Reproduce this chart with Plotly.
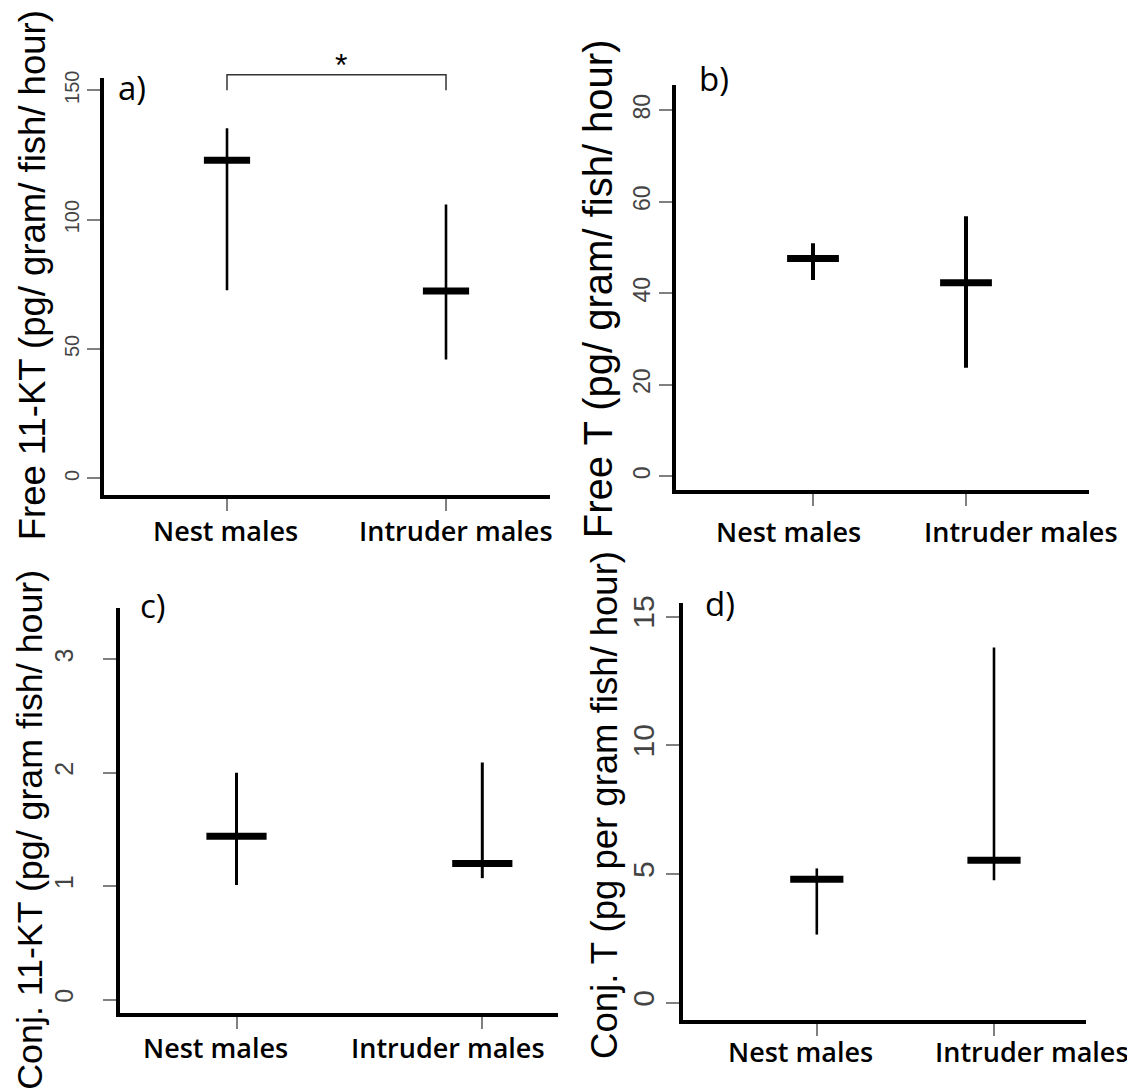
import plotly.graph_objects as go

W, H = 1135, 1090
# the page adds an offset around the figure; geometry below is measured on the page and shifted back
OFFX = 8
OFFY = 12

# ---------------- data ----------------
categories = ["Nest males", "Intruder males"]

a_median = [122.9, 72.4]
a_low = [72.7, 45.9]
a_high = [135.3, 105.8]

b_median = [47.6, 42.3]
b_low = [42.9, 23.7]
b_high = [50.9, 56.8]

c_median = [1.44, 1.20]
c_low = [1.01, 1.07]
c_high = [2.00, 2.09]

d_median = [4.80, 5.54]
d_low = [2.65, 4.76]
d_high = [5.22, 13.8]

a_ticks = [0, 50, 100, 150]
b_ticks = [0, 20, 40, 60, 80]
c_ticks = [0, 1, 2, 3]
d_ticks = [0, 5, 10, 15]

y_titles = [
    "Free 11-KT (pg/ gram/ fish/ hour)",
    "Free T (pg/ gram/ fish/ hour)",
    "Conj. 11-KT (pg/ gram fish/ hour)",
    "Conj. T (pg per gram fish/ hour)",
]
panel_letters = ["a)", "b)", "c)", "d)"]
sig_text = "*"
bracket_top = 156.0
bracket_foot = 150.0

# ---------------- layout geometry (page pixels) ----------------
LW = 4
panels = [
    dict(med=a_median, lo=a_low, hi=a_high, ticks=a_ticks,
         left=101.7, right=550, top=75, bottom=497.3, y0px=478.3, yrpx=87.7, yrval=150,
         c0=227, c1=446, tfs=20, vlw=2.6, mw=33, stand=0,
         title_x=32, title_y=274, title_fs=36.5,
         lab_shift=[-2, 10], lab_y=531, let_x=132, let_y=85),
    dict(med=b_median, lo=b_low, hi=b_high, ticks=b_ticks,
         left=673.7, right=1089, top=82.4, bottom=492.5, y0px=476.2, yrpx=107.8, yrval=80,
         c0=813, c1=966, tfs=23, vlw=4, mw=37, stand=0,
         title_x=598, title_y=288, title_fs=40,
         lab_shift=[-25, 55], lab_y=532, let_x=714, let_y=76),
    dict(med=c_median, lo=c_low, hi=c_high, ticks=c_ticks,
         left=117.5, right=557.7, top=609, bottom=1018.5, y0px=1002.9, yrpx=660.4, yrval=3,
         c0=236.5, c1=482.3, tfs=25, vlw=3, mw=43, stand=20,
         title_x=30, title_y=832, title_fs=35.8,
         lab_shift=[-21, -34], lab_y=1051, let_x=153, let_y=606),
    dict(med=d_median, lo=d_low, hi=d_high, ticks=d_ticks,
         left=680.6, right=1086, top=603.3, bottom=1025.9, y0px=1006.2, yrpx=617.5, yrval=15,
         c0=816.8, c1=994, tfs=30, vlw=2.6, mw=38, stand=0,
         title_x=605, title_y=807, title_fs=36.5,
         lab_shift=[-16, 38], lab_y=1055, let_x=720, let_y=604),
]

fig = go.Figure()
annotations = []
shapes = []

for i, p in enumerate(panels):
    n = "" if i == 0 else str(i + 1)
    xa, ya = "x" + n, "y" + n
    pl = p["left"] - OFFX + LW / 2
    pb = p["bottom"] - OFFY - LW / 2
    pt = p["top"] - OFFY
    pr = p["right"] - OFFX
    y0 = p["y0px"] - OFFY
    ppu = (p["y0px"] - p["yrpx"]) / p["yrval"]
    ymin = -(pb - y0) / ppu
    ymax = (y0 - pt) / ppu
    c0 = p["c0"] - OFFX
    c1 = p["c1"] - OFFX
    xppu = c1 - c0
    xmin = -(c0 - pl) / xppu
    xmax = 1 + (pr - c1) / xppu
    p["ymin"], p["ymax"] = ymin, ymax

    # range lines
    xs, ys = [], []
    for c, lo, hi in zip(categories, p["lo"], p["hi"]):
        xs += [c, c, None]
        ys += [lo, hi, None]
    fig.add_trace(go.Scatter(x=xs, y=ys, mode="lines",
                             line=dict(color="black", width=p["vlw"]),
                             xaxis=xa, yaxis=ya, showlegend=False, hoverinfo="skip"))
    # medians
    fig.add_trace(go.Scatter(x=categories, y=p["med"], mode="markers",
                             marker=dict(symbol="line-ew", size=p["mw"],
                                         line=dict(color="black", width=7)),
                             xaxis=xa, yaxis=ya, showlegend=False, cliponaxis=False))

    axis_common = dict(showline=True, linewidth=LW, linecolor="black", showgrid=False,
                       zeroline=False, ticks="outside", tickcolor="#808080", tickwidth=1.5)
    fig.layout["xaxis" + n] = dict(axis_common, domain=[pl / W, pr / W], range=[xmin, xmax],
                                   type="category", categoryorder="array", categoryarray=categories,
                                   ticklen=12, showticklabels=False, anchor=ya)
    fig.layout["yaxis" + n] = dict(axis_common, domain=[1 - pb / H, 1 - pt / H], range=[ymin, ymax],
                                   tickvals=p["ticks"], ticklen=13, tickangle=-90,
                                   ticklabelstandoff=p["stand"],
                                   tickfont=dict(family="Liberation Sans, Arial", size=p["tfs"], color="#444"),
                                   anchor=xa)

    # y title
    annotations.append(dict(text=y_titles[i], xref="paper", yref="paper",
                            x=(p["title_x"] - OFFX) / W, y=1 - (p["title_y"] - OFFY) / H, textangle=-90,
                            xanchor="center", yanchor="middle", showarrow=False,
                            font=dict(family="Liberation Sans, Arial", size=p["title_fs"], color="black")))
    # category labels
    for c, sh in zip(categories, p["lab_shift"]):
        annotations.append(dict(text=c, xref=xa, yref="paper", x=c, xshift=sh,
                                y=1 - (p["lab_y"] - OFFY) / H, xanchor="center", yanchor="middle",
                                showarrow=False,
                                font=dict(family="Open Sans", size=27, color="black", weight=600)))
    # panel letter
    annotations.append(dict(text=panel_letters[i], xref="paper", yref="paper",
                            x=(p["let_x"] - OFFX) / W, y=1 - (p["let_y"] - OFFY) / H,
                            xanchor="center", yanchor="middle",
                            showarrow=False, font=dict(family="Open Sans", size=33, color="black")))

# significance bracket on panel a
pa = panels[0]
def to_dom(v, p):
    return (v - p["ymin"]) / (p["ymax"] - p["ymin"])
yt = to_dom(bracket_top, pa)
yf = to_dom(bracket_foot, pa)
shapes.append(dict(type="path", xref="x", yref="y domain",
                   path=f"M 0,{yf} L 0,{yt} L 1,{yt} L 1,{yf}",
                   line=dict(color="#333", width=1.5)))
annotations.append(dict(text=sig_text, xref="x", yref="y domain", x=0.5, y=yt,
                        xshift=4, yshift=10, xanchor="center", yanchor="middle", showarrow=False,
                        font=dict(family="Liberation Sans, Arial", size=32, color="black")))

fig.update_layout(width=W, height=H, margin=dict(l=0, r=0, t=0, b=0),
                  paper_bgcolor="white", plot_bgcolor="white",
                  annotations=annotations, shapes=shapes, showlegend=False)

fig.write_html("out.html")
